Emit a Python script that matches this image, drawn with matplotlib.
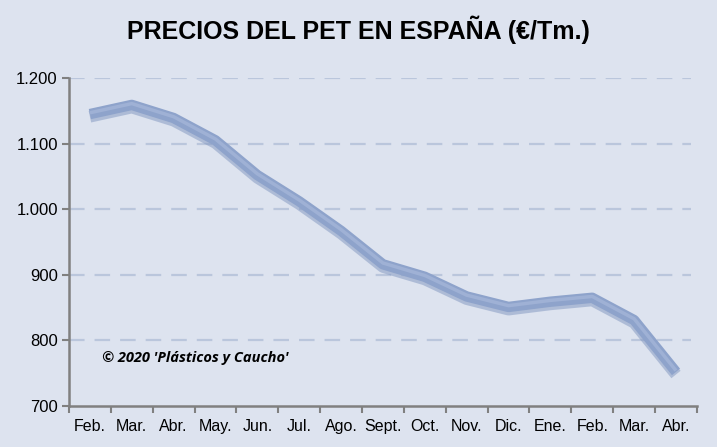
import numpy as np
import matplotlib.pyplot as plt

months = ['Feb.', 'Mar.', 'Abr.', 'May.', 'Jun.', 'Jul.', 'Ago.', 'Sept.',
          'Oct.', 'Nov.', 'Dic.', 'Ene.', 'Feb.', 'Mar.', 'Abr.']
prices = [1145, 1159, 1139, 1105, 1052, 1012, 967, 916,
          897, 867, 851, 859, 865, 831, 752]
y_ticks = [700, 800, 900, 1000, 1100, 1200]
y_labels = ['700', '800', '900', '1.000', '1.100', '1.200']

bg = '#dde3ef'


def main():
    fig = plt.figure(figsize=(7.17, 4.47), dpi=100, facecolor=bg)
    ax = fig.add_axes([0.0962, 0.0917, 0.8758, 0.7338], facecolor=bg)

    x = np.arange(len(months))

    for v in y_ticks[1:]:
        ax.axhline(v, xmin=0, xmax=0.99, color='#bac6dc', lw=1.6,
                   dashes=(7, 4.5), zorder=1)

    # shadow under the line
    ax.plot(x, np.array(prices) - 4, color='#7f95bf', lw=8.5, alpha=0.5,
            solid_capstyle='butt', solid_joinstyle='round', zorder=2)
    ax.plot(x, prices, color='#8ea3cb', lw=7.5, solid_capstyle='butt',
            solid_joinstyle='round', zorder=3)
    ax.plot(x, np.array(prices) + 2, color='#9fb1d5', lw=2.5,
            solid_capstyle='butt', solid_joinstyle='round', zorder=4)

    ax.set_xlim(-0.5, len(months) - 0.5)
    ax.set_ylim(700, 1200)

    ax.set_xticks(np.arange(len(months) + 1) - 0.5)
    ax.set_xticklabels([])
    ax.set_xticks(x, minor=True)
    ax.set_xticklabels(months, minor=True, fontsize=11.5,
                       fontfamily='Liberation Sans')
    ax.tick_params(axis='x', which='minor', length=0, pad=9)
    ax.tick_params(axis='x', which='major', length=5, width=1.5,
                   color='#808080', direction='out')

    ax.set_yticks(y_ticks)
    ax.set_yticklabels(y_labels, fontsize=12, fontfamily='Liberation Sans')
    ax.tick_params(axis='y', length=5, width=1.5, color='#808080', pad=3)

    for side in ['top', 'right']:
        ax.spines[side].set_visible(False)
    for side in ['left', 'bottom']:
        ax.spines[side].set_color('#808080')
        ax.spines[side].set_linewidth(1.8)

    ax.text(0.052, 0.146, "© 2020 'Plásticos y Caucho'", transform=ax.transAxes,
            fontsize=10.5, fontstyle='italic', fontweight='bold',
            fontfamily='Open Sans', va='center', ha='left')

    fig.text(0.5, 0.933, 'PRECIOS DEL PET EN ESPAÑA (€/Tm.)', ha='center',
             va='center', fontsize=18, fontweight='bold',
             fontfamily='Liberation Sans')

    fig.savefig('out.png', dpi=100, facecolor=bg)


if __name__ == '__main__':
    main()
